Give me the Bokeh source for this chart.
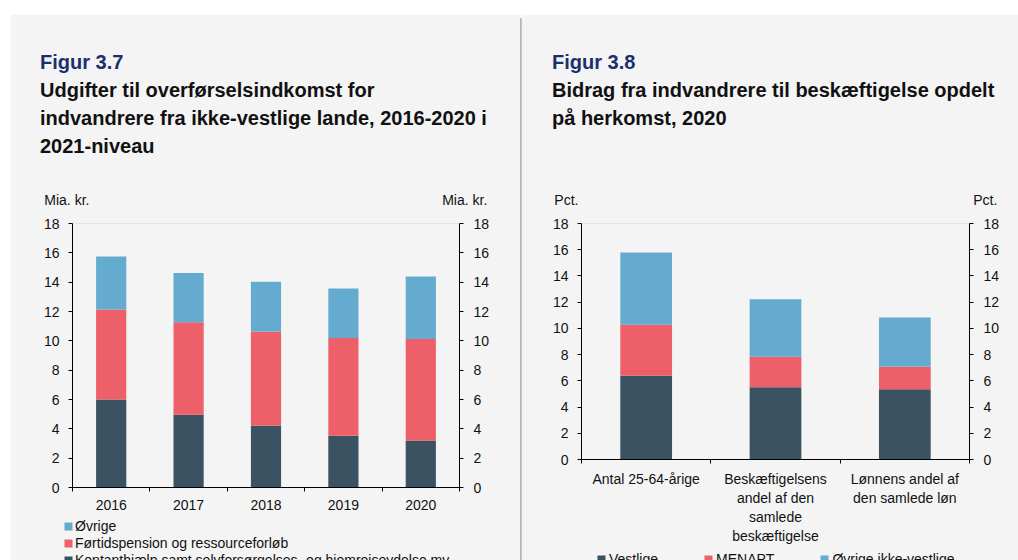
from bokeh.plotting import figure
from bokeh.models import (Range1d, LinearAxis, FixedTicker, Legend, LegendItem,
                          ColumnDataSource, Div)
from bokeh.embed import file_html
from bokeh.resources import INLINE

# ---------------- data ----------------
years = ["2016", "2017", "2018", "2019", "2020"]
kontant = [6.00, 4.96, 4.21, 3.53, 3.21]
fortid = [6.13, 6.30, 6.42, 6.67, 6.92]
ovrige = [3.62, 3.37, 3.39, 3.36, 4.25]
names1 = ["Kontanthjælp samt selvforsørgelses- og hjemrejseydelse mv.",
          "Førtidspension og ressourceforløb", "Øvrige"]

groups = ["Antal 25-64-årige",
          "Beskæftigelsens\nandel af den\nsamlede\nbeskæftigelse",
          "Lønnens andel af\nden samlede løn"]
vestlige = [6.38, 5.52, 5.36]
menapt = [3.89, 2.31, 1.71]
ovrige_iv = [5.52, 4.40, 3.76]
names2 = ["Vestlige", "MENAPT", "Øvrige ikke-vestlige"]

y_ticks = [0, 2, 4, 6, 8, 10, 12, 14, 16, 18]

# ---------------- style ----------------
FONT = "Liberation Sans"
BG = "#f4f4f4"
DARK = "#3b5263"
RED = "#ed5f69"
BLUE = "#65abcf"
NAVY = "#1b2f6f"
TXT = "#111111"
COLORS = [DARK, RED, BLUE]


def style_axis(ax, standoff):
    ax.axis_line_color = "black"
    ax.major_tick_line_color = "black"
    ax.minor_tick_line_color = "black"
    ax.major_label_text_font = FONT
    ax.major_label_text_font_size = "14px"
    ax.major_label_text_color = TXT
    ax.major_label_standoff = standoff


def stack_source(cats, series):
    data = {"x": list(range(1, len(cats) + 1))}
    for i, s in enumerate(series):
        data["s%d" % i] = s
    return ColumnDataSource(data), ["s%d" % i for i in range(len(series))]


def make_panel(cats, series, fw, fh, mb, bar_w, xstand, left, top):
    n = len(cats)
    xs = list(range(1, n + 1))
    p = figure(frame_width=fw, frame_height=fh, output_backend="svg", toolbar_location=None,
               x_range=Range1d(0.5, n + 0.5), y_range=Range1d(0, 18),
               min_border_left=mb[0], min_border_right=mb[1],
               min_border_top=mb[2], min_border_bottom=mb[3],
               styles={"position": "absolute", "left": "%dpx" % left, "top": "%dpx" % top})
    p.background_fill_color = BG
    p.border_fill_color = BG
    p.outline_line_color = None
    p.grid.visible = False

    src, keys = stack_source(cats, series)
    p.vbar_stack(keys, x="x", width=bar_w, fill_color=COLORS, line_color=None, source=src)

    # x axis: labels at centres, ticks at category boundaries
    xa = p.xaxis[0]
    xa.ticker = FixedTicker(ticks=xs, minor_ticks=[x - 0.5 for x in xs] + [n + 0.5])
    xa.major_label_overrides = {x: c for x, c in zip(xs, cats)}
    xa.major_tick_out = 0
    xa.major_tick_in = 0
    xa.minor_tick_out = 4
    xa.minor_tick_in = 0
    style_axis(xa, xstand)

    ya = p.yaxis[0]
    ya.ticker = FixedTicker(ticks=y_ticks)
    ya.major_tick_out = 4
    ya.major_tick_in = 0
    ya.minor_tick_line_color = None
    style_axis(ya, 9)

    ra = LinearAxis(ticker=FixedTicker(ticks=y_ticks))
    ra.major_tick_out = 4
    ra.major_tick_in = 0
    ra.minor_tick_line_color = None
    style_axis(ra, 10)
    p.add_layout(ra, "right")
    return p


def make_legend_fig(cats, series, names, order, w, h, left, top, loc, orient, spacing, standoff):
    """Transparent overlay figure that only carries the legend (its bars lie below its view)."""
    n = len(cats)
    lf = figure(width=w, height=h, output_backend="svg", toolbar_location=None,
                x_axis_type=None, y_axis_type=None, min_border=0,
                x_range=Range1d(0.5, n + 0.5), y_range=Range1d(1000, 1001),
                styles={"position": "absolute", "left": "%dpx" % left, "top": "%dpx" % top})
    lf.background_fill_alpha = 0
    lf.border_fill_alpha = 0
    lf.outline_line_color = None
    lf.grid.visible = False
    src, keys = stack_source(cats, series)
    rs = lf.vbar_stack(keys, x="x", width=0.4, fill_color=COLORS, line_color=None, source=src)
    leg = Legend(items=[LegendItem(label=names[i], renderers=[rs[i]]) for i in order],
                 location=loc, orientation=orient)
    leg.background_fill_alpha = 0
    leg.border_line_color = None
    leg.padding = 0
    leg.margin = 0
    leg.spacing = spacing
    leg.label_height = 17
    leg.glyph_height = 10
    leg.glyph_width = 10
    leg.label_standoff = standoff
    leg.label_text_font = FONT
    leg.label_text_font_size = "14px"
    leg.label_text_color = TXT
    leg.label_text_baseline = "alphabetic"
    lf.add_layout(leg)
    return lf


def text_div(html, left, top, width, size, bold=False, color=TXT, lh=None, align="left"):
    st = {"position": "absolute", "left": "%.1fpx" % left, "top": "%.1fpx" % top,
          "font-family": FONT, "font-size": size, "color": color,
          "font-weight": "bold" if bold else "normal", "white-space": "nowrap",
          "text-align": align, "margin": "0", "padding": "0"}
    if lh:
        st["line-height"] = lh
    return Div(text=html, width=width, styles=st)


# ---------------- panels ----------------
p1 = make_panel(years, [kontant, fortid, ovrige], 387, 264, (62, 61, 209, 73), 0.39, 8, 10, 14)
p2 = make_panel(groups, [vestlige, menapt, ovrige_iv], 388, 236, (60, 49, 209, 101), 0.40, 7, 521, 14)

lf1 = make_legend_fig(years, [kontant, fortid, ovrige], names1, [2, 1, 0],
                      470, 70, 50, 505, (13, 6.5), "vertical", 0, 2)
lf2 = make_legend_fig(groups, [vestlige, menapt, ovrige_iv], names2, [0, 1, 2],
                      433, 40, 585, 535, (11, 8), "horizontal", 45, 3)

# ---------------- page background / separators ----------------
bg = Div(text="", width=1008, height=547,
         styles={"position": "absolute", "left": "10px", "top": "13px",
                 "background-color": "#b5b5b5"})

# ---------------- titles and unit labels ----------------
texts = [
    text_div("Figur 3.7", 40, 50.4, 300, "20px", True, NAVY, "24px"),
    text_div("Udgifter til overførselsindkomst for<br>"
             "indvandrere fra ikke-vestlige lande, 2016-2020 i<br>2021-niveau",
             40, 75.6, 470, "20px", True, TXT, "28.3px"),
    text_div("Mia. kr.", 44.3, 192.2, 80, "14px", False, TXT, "16px"),
    text_div("Mia. kr.", 407.3, 192.2, 80, "14px", False, TXT, "16px", "right"),
    text_div("Figur 3.8", 552, 50.4, 300, "20px", True, NAVY, "24px"),
    text_div("Bidrag fra indvandrere til beskæftigelse opdelt<br>på herkomst, 2020",
             552, 76.2, 460, "20px", True, TXT, "28.3px"),
    text_div("Pct.", 554.3, 192.2, 60, "14px", False, TXT, "16px"),
    text_div("Pct.", 937.3, 192.2, 60, "14px", False, TXT, "16px", "right"),
]

open("out.html", "w").write(file_html([bg, p1, p2, lf1, lf2] + texts, INLINE))
